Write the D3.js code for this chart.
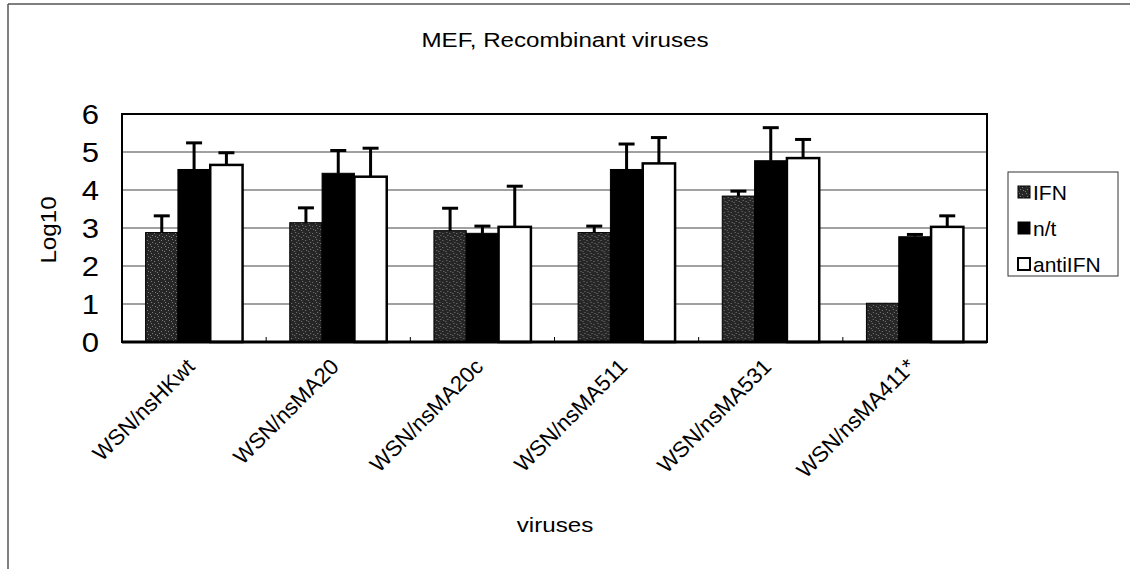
<!DOCTYPE html>
<html>
<head>
<meta charset="utf-8">
<script src="https://cdn.jsdelivr.net/npm/d3@7"></script>
<style>
  html, body { margin: 0; padding: 0; background: #fff; }
  svg { display: block; font-family: "Liberation Sans", Arial, sans-serif; }
</style>
</head>
<body>
<svg id="chart" width="1130" height="569"></svg>
<script>
// Virus strains on the category axis
const viruses = ["WSN/nsHKwt", "WSN/nsMA20", "WSN/nsMA20c", "WSN/nsMA511", "WSN/nsMA531", "WSN/nsMA411*"];
// Treatment series
const series = ["IFN", "n/t", "antiIFN"];
// Mean titres (log10) per virus for each treatment
const ifnValues     = [2.88, 3.14, 2.93, 2.88, 3.84, 1.02];
const ntValues      = [4.54, 4.44, 2.86, 4.54, 4.77, 2.77];
const antiIfnValues = [4.66, 4.35, 3.03, 4.70, 4.84, 3.03];
// Upper error (SD) per virus for each treatment
const ifnErrors     = [0.44, 0.39, 0.59, 0.17, 0.13, 0];
const ntErrors      = [0.70, 0.60, 0.19, 0.67, 0.87, 0.06];
const antiIfnErrors = [0.32, 0.75, 1.07, 0.68, 0.49, 0.29];
// Y axis ticks
const yTicks = [0, 1, 2, 3, 4, 5, 6];

const valuesBySeries = [ifnValues, ntValues, antiIfnValues];
const errorsBySeries = [ifnErrors, ntErrors, antiIfnErrors];

const svg = d3.select("#chart");
const W = 1130, H = 569;
const plot = { left: 122, right: 987, top: 114, bottom: 342 };

// Outer frame (left and top edges)
svg.append("line").attr("x1", 8).attr("y1", 4).attr("x2", 8).attr("y2", H)
  .attr("stroke", "#555").attr("stroke-width", 1.5);
svg.append("line").attr("x1", 8).attr("y1", 4).attr("x2", W).attr("y2", 4)
  .attr("stroke", "#555").attr("stroke-width", 1.5);

// Stippled fill for the IFN series
const defs = svg.append("defs");
const pat = defs.append("pattern").attr("id", "stipple")
  .attr("patternUnits", "userSpaceOnUse").attr("width", 7).attr("height", 7);
pat.append("rect").attr("width", 7).attr("height", 7).attr("fill", "#262626");
[[1,1],[4,2],[2,4],[5,5],[0,6]].forEach(([px, py]) => {
  pat.append("rect").attr("x", px).attr("y", py).attr("width", 1).attr("height", 1).attr("fill", "#7a7a7a");
});

const x = d3.scaleBand().domain(viruses).range([plot.left, plot.right]).paddingInner(0).paddingOuter(0);
const x1 = d3.scaleBand().domain(series).range([0, x.bandwidth()]).paddingInner(0).paddingOuter(0.73);
const y = d3.scaleLinear().domain([0, 6]).range([plot.bottom, plot.top]);

const fills = { "IFN": "url(#stipple)", "n/t": "#000", "antiIFN": "#fff" };

// Gridlines
svg.append("g").selectAll("line").data(yTicks.filter(t => t > 0 && t < 6)).join("line")
  .attr("x1", plot.left).attr("x2", plot.right)
  .attr("y1", d => y(d)).attr("y2", d => y(d))
  .attr("stroke", "#444").attr("stroke-width", 1.2);

// Category separator ticks along the bottom
svg.append("g").selectAll("line").data(viruses.slice(1)).join("line")
  .attr("x1", d => x(d)).attr("x2", d => x(d))
  .attr("y1", plot.bottom).attr("y2", plot.bottom - 5)
  .attr("stroke", "#000").attr("stroke-width", 1);

// Bars
const groups = svg.append("g").selectAll("g").data(viruses).join("g")
  .attr("transform", d => `translate(${x(d)},0)`);

series.forEach((s, si) => {
  groups.append("rect")
    .attr("x", x1(s))
    .attr("y", (d, i) => y(valuesBySeries[si][i]))
    .attr("width", x1.bandwidth())
    .attr("height", (d, i) => plot.bottom - y(valuesBySeries[si][i]))
    .attr("fill", fills[s])
    .attr("stroke", "#000")
    .attr("stroke-width", s === "antiIFN" ? 2.5 : 1);
});

// Error bars (upper)
series.forEach((s, si) => {
  const cx = x1(s) + x1.bandwidth() / 2;
  groups.each(function(d, i) {
    const v = valuesBySeries[si][i], e = errorsBySeries[si][i];
    if (!(e > 0)) return;
    const g = d3.select(this);
    g.append("line").attr("x1", cx).attr("x2", cx)
      .attr("y1", y(v)).attr("y2", y(v + e))
      .attr("stroke", "#000").attr("stroke-width", 3);
    g.append("line").attr("x1", cx - 8).attr("x2", cx + 8)
      .attr("y1", y(v + e)).attr("y2", y(v + e))
      .attr("stroke", "#000").attr("stroke-width", 3);
  });
});

// Plot border
svg.append("rect").attr("x", plot.left).attr("y", plot.top)
  .attr("width", plot.right - plot.left).attr("height", plot.bottom - plot.top)
  .attr("fill", "none").attr("stroke", "#000").attr("stroke-width", 2);
svg.append("line").attr("x1", plot.left).attr("x2", plot.right)
  .attr("y1", plot.bottom).attr("y2", plot.bottom)
  .attr("stroke", "#000").attr("stroke-width", 3);

// Y tick labels
svg.append("g").selectAll("text").data(yTicks).join("text")
  .attr("transform", d => `translate(99,${y(d)}) scale(1.15,1)`)
  .attr("text-anchor", "end").attr("dy", "0.36em")
  .attr("font-size", 27).attr("fill", "#000")
  .text(d => d);

// X category labels
svg.append("g").selectAll("text").data(viruses).join("text")
  .attr("transform", d => `translate(${x(d) + x.bandwidth() / 2 + 2},${plot.bottom + 26}) rotate(-45)`)
  .attr("text-anchor", "end")
  .attr("font-size", 22).attr("fill", "#000")
  .text(d => d);

// Title and axis titles
svg.append("text").attr("transform", "translate(565,47) scale(1.15,1)")
  .attr("text-anchor", "middle").attr("font-size", 21).text("MEF, Recombinant viruses");
svg.append("text").attr("transform", "translate(555,532) scale(1.15,1)")
  .attr("text-anchor", "middle").attr("font-size", 21).text("viruses");
svg.append("text").attr("transform", "translate(56,230) rotate(-90) scale(1.1,1)")
  .attr("text-anchor", "middle").attr("font-size", 22).text("Log10");

// Legend
const legend = svg.append("g");
legend.append("rect").attr("x", 1008).attr("y", 172).attr("width", 110).attr("height", 104)
  .attr("fill", "#fff").attr("stroke", "#333").attr("stroke-width", 1);
const li = legend.selectAll("g").data(series).join("g")
  .attr("transform", (d, i) => `translate(1018,${192 + i * 36})`);
li.append("rect").attr("x", 0).attr("y", -6).attr("width", 12).attr("height", 12)
  .attr("fill", d => fills[d]).attr("stroke", "#000").attr("stroke-width", d => d === "antiIFN" ? 2 : 1);
li.append("text").attr("transform", "translate(15,0)")
  .attr("dy", "0.36em").attr("font-size", 21).text(d => d);
</script>
</body>
</html>
